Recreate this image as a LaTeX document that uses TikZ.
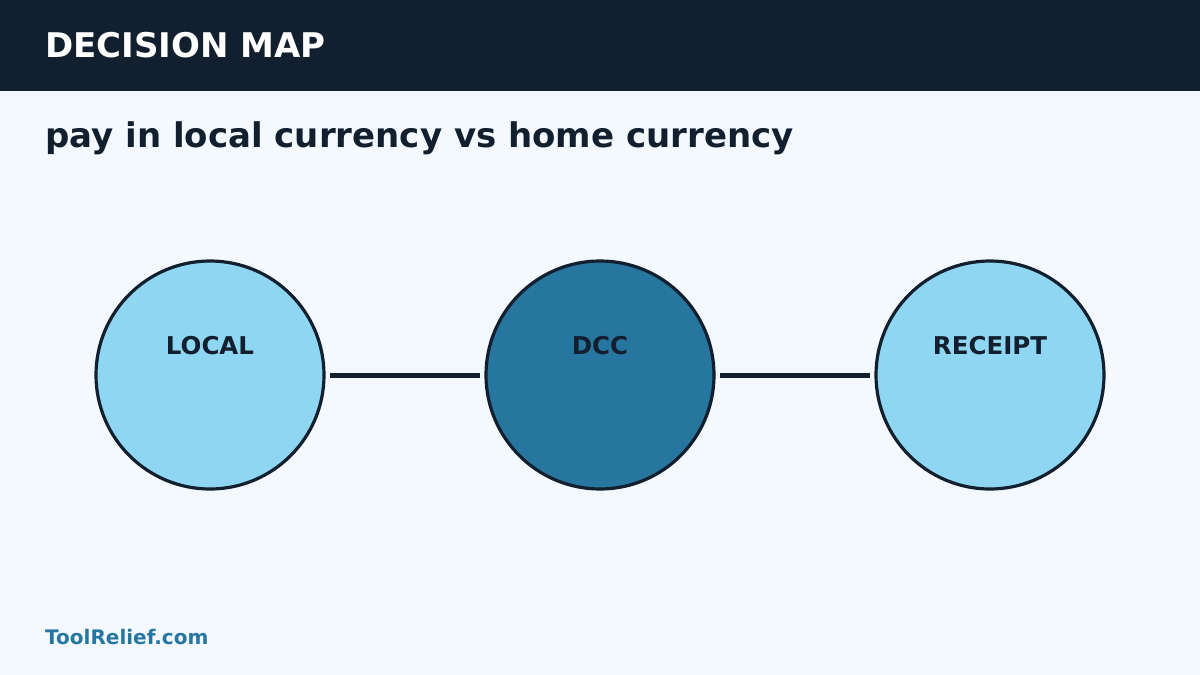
\documentclass[tikz,border=0pt]{standalone}
\usepackage{fontspec}
\setmainfont{DejaVu Sans}
\definecolor{navy}{HTML}{111F2E}
\definecolor{bgc}{HTML}{F4F9FF}
\definecolor{light}{HTML}{8FD6F2}
\definecolor{mid}{HTML}{26769F}
\begin{document}
\begin{tikzpicture}[x=1pt,y=-1pt,
  circ/.style={circle,draw=navy,line width=3.2pt,minimum size=228pt,inner sep=0pt},
  lbl/.style={anchor=base,font=\fontsize{24.5}{24.5}\selectfont\bfseries,text=navy,inner sep=0pt},
  conn/.style={draw=navy,line width=5pt,shorten <=4.5pt,shorten >=4.5pt}]
\useasboundingbox (0,0) rectangle (1200,675);
\fill[bgc] (0,0) rectangle (1200,675);
\fill[navy] (0,0) rectangle (1200,91);
\node[anchor=base west,inner sep=0pt,text=white,font=\fontsize{34}{34}\selectfont\bfseries] (title) at (45,57) {DECISION MAP};
\node[anchor=base west,inner sep=0pt,text=navy,font=\fontsize{34}{34}\selectfont\bfseries] (sub) at (45,147) {pay in local currency vs home currency};
\node[circ,fill=light] (a) at (210,375) {};
\node[circ,fill=mid] (b) at (600,375) {};
\node[circ,fill=light] (c) at (990,375) {};
\node[lbl] (la) at (210,354) {LOCAL};
\node[lbl] (lb) at (600,354) {DCC};
\node[lbl] (lc) at (990,354) {RECEIPT};
\draw[conn] (a) -- (b);
\draw[conn] (b) -- (c);
\node[anchor=base west,inner sep=0pt,text=mid,font=\fontsize{20}{20}\selectfont\bfseries] (foot) at (45,644) {ToolRelief.com};
\end{tikzpicture}
\end{document}
